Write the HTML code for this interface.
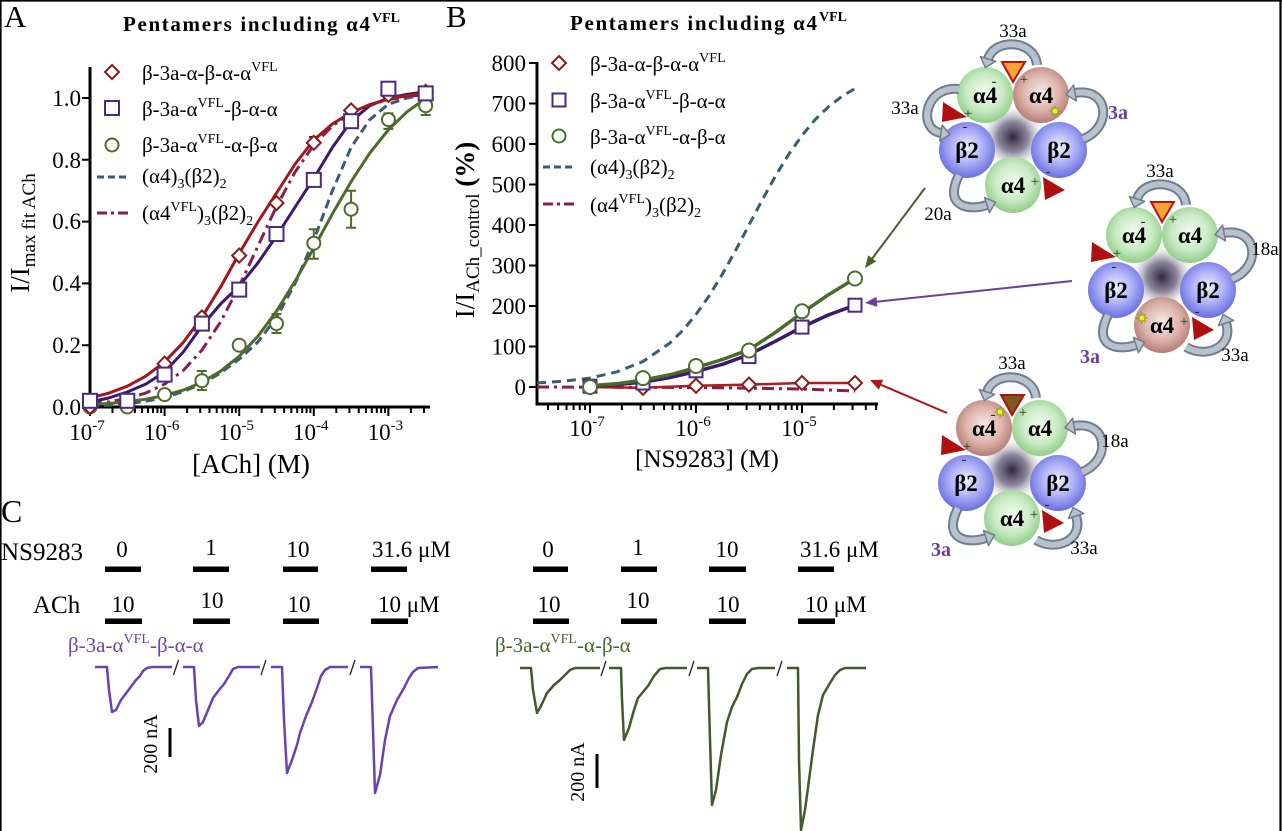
<!DOCTYPE html>
<html>
<head>
<meta charset="utf-8">
<style>
html,body{margin:0;padding:0;background:#fff;}
svg{display:block;font-family:"Liberation Serif","DejaVu Serif",serif;}
text,tspan{font-family:"Liberation Serif","DejaVu Serif",serif;}
.ao{fill:none;stroke:#6f7d8c;stroke-width:10}
.ai{fill:none;stroke:#b8c2ce;stroke-width:6}
.ah{fill:#b8c2ce;stroke:#6f7d8c;stroke-width:1.5;stroke-linejoin:round}
.ax{stroke:#000;stroke-width:3;fill:none}
.tk{stroke:#000;stroke-width:2;fill:none}
.sig{font-size:15px;fill:#1a3a10}
</style>
</head>
<body>
<svg width="1282" height="831" viewBox="0 0 1282 831" xmlns="http://www.w3.org/2000/svg">
<defs>
  <radialGradient id="gG" cx="50%" cy="45%" r="55%">
    <stop offset="0" stop-color="#f4fcf1"/><stop offset="0.6" stop-color="#c8eac2"/><stop offset="1" stop-color="#8fcd88"/>
  </radialGradient>
  <radialGradient id="gP" cx="50%" cy="45%" r="55%">
    <stop offset="0" stop-color="#f7ebe8"/><stop offset="0.6" stop-color="#dcb2aa"/><stop offset="1" stop-color="#b47d75"/>
  </radialGradient>
  <radialGradient id="gB" cx="50%" cy="45%" r="55%">
    <stop offset="0" stop-color="#f0f1ff"/><stop offset="0.55" stop-color="#a9adf5"/><stop offset="1" stop-color="#6a6ee0"/>
  </radialGradient>
  <radialGradient id="gC" cx="50%" cy="50%" r="50%">
    <stop offset="0" stop-color="#2e2640"/><stop offset="0.45" stop-color="#6e6882" stop-opacity="0.8"/><stop offset="1" stop-color="#ffffff" stop-opacity="0"/>
  </radialGradient>
  <g id="arcTop"><path class="ao" d="M24,-70 C22,-95 -18,-98 -25,-76"/><path class="ai" d="M24,-70 C22,-95 -18,-98 -25,-76"/><polygon class="ah" points="-27.7,-67.5 -17.4,-73.6 -32.6,-78.4"/></g>
  <g id="arcLeft"><path class="ao" d="M-54,-46 C-88,-50 -96,-6 -72,-2"/><path class="ai" d="M-54,-46 C-88,-50 -96,-6 -72,-2"/><polygon class="ah" points="-63.1,-0.5 -73.3,5.9 -70.7,-9.9"/></g>
  <g id="arcRight"><path class="ao" d="M70,4 C100,-8 96,-48 62,-42"/><path class="ai" d="M70,4 C100,-8 96,-48 62,-42"/><polygon class="ah" points="53.1,-40.4 60.6,-49.9 63.4,-34.1"/></g>
  <g id="arcBL"><path class="ao" d="M-54,40 C-70,72 -44,76 -26,70"/><path class="ai" d="M-54,40 C-70,72 -44,76 -26,70"/><polygon class="ah" points="-17.5,67.2 -23.5,77.6 -28.5,62.4"/></g>
  <g id="arcBR"><path class="ao" d="M24,72 C44,84 72,72 64,48"/><path class="ai" d="M24,72 C44,84 72,72 64,48"/><polygon class="ah" points="61.2,39.5 71.6,45.5 56.4,50.5"/></g>
  <g id="redTris">
    <polygon points="-70,-33 -46,-18 -71,-13" fill="#b00f10"/>
    <polygon points="30,42 52,55 32,65" fill="#b00f10"/>
  </g>
  <polygon id="star" points="5,0 2.31,0.96 3.54,3.54 0.96,2.31 0,5 -0.96,2.31 -3.54,3.54 -2.31,0.96 -5,0 -2.31,-0.96 -3.54,-3.54 -0.96,-2.31 0,-5 0.96,-2.31 3.54,-3.54 2.31,-0.96" fill="#f2f22a" stroke="#8aa020" stroke-width="0.8"/>
</defs>

<rect x="0" y="0" width="1282" height="831" fill="#fff"/>
<!-- frame -->
<line x1="0.8" y1="0" x2="0.8" y2="831" stroke="#000" stroke-width="1.6"/>
<line x1="0" y1="0.8" x2="1282" y2="0.8" stroke="#000" stroke-width="1.6"/>
<line x1="1280.5" y1="0" x2="1280.5" y2="831" stroke="#000" stroke-width="2.2"/>

<!-- ================= PANEL A ================= -->
<text x="4" y="27" font-size="31">A</text>
<text x="123" y="31" font-size="21" font-weight="bold" textLength="247" lengthAdjust="spacing">Pentamers including α4</text>
<text x="372" y="22" font-size="14" font-weight="bold">VFL</text>

<!-- axes -->
<line class="ax" x1="90" y1="67" x2="90" y2="408.5"/>
<line class="ax" x1="88.5" y1="407" x2="430" y2="407"/>
<path class="tk" d="M82,407H90M82,345.2H90M82,283.4H90M82,221.6H90M82,159.8H90M82,98H90"/>
<path class="tk" d="M90,407V416M164.6,407V416M239.2,407V416M313.8,407V416M388.4,407V416"/>
<path class="tk" stroke-width="1.8" d="M112.5,407V413M125.6,407V413M134.9,407V413M142.1,407V413M148,407V413M153,407V413M157.4,407V413M161.2,407V413M187.1,407V413M200.2,407V413M209.5,407V413M216.7,407V413M222.6,407V413M227.6,407V413M232,407V413M235.8,407V413M261.7,407V413M274.8,407V413M284.1,407V413M291.3,407V413M297.2,407V413M302.2,407V413M306.6,407V413M310.4,407V413M336.3,407V413M349.4,407V413M358.7,407V413M365.9,407V413M371.8,407V413M376.8,407V413M381.2,407V413M385,407V413M410.9,407V413M424,407V413"/>
<g font-size="23" text-anchor="end">
  <text x="81" y="415">0.0</text>
  <text x="81" y="353">0.2</text>
  <text x="81" y="291">0.4</text>
  <text x="81" y="229">0.6</text>
  <text x="81" y="168">0.8</text>
  <text x="81" y="106">1.0</text>
</g>
<g font-size="23" text-anchor="middle">
  <text x="87" y="440">10<tspan font-size="15" dy="-10">-7</tspan></text>
  <text x="161.6" y="440">10<tspan font-size="15" dy="-10">-6</tspan></text>
  <text x="236.2" y="440">10<tspan font-size="15" dy="-10">-5</tspan></text>
  <text x="310.8" y="440">10<tspan font-size="15" dy="-10">-4</tspan></text>
  <text x="385.4" y="440">10<tspan font-size="15" dy="-10">-3</tspan></text>
</g>
<text x="251" y="473" font-size="27" text-anchor="middle">[ACh] (M)</text>
<text transform="translate(29,233) rotate(-90)" font-size="27" text-anchor="middle">I/I<tspan font-size="19" dy="6">max fit ACh</tspan></text>

<!-- legend A -->
<path d="M112,65 L119,72 L112,79 L105,72 Z" fill="#fff" stroke="#8b1a1a" stroke-width="2"/>
<rect x="105" y="101" width="14" height="14" fill="#fff" stroke="#4a2a80" stroke-width="2"/>
<circle cx="112" cy="145" r="6.5" fill="#fff" stroke="#4e6b2c" stroke-width="2"/>
<line x1="97" y1="177" x2="127" y2="177" stroke="#3d5c70" stroke-width="3" stroke-dasharray="7,4"/>
<line x1="97" y1="213" x2="128" y2="213" stroke="#8c1d4b" stroke-width="3" stroke-dasharray="10,4,3,4"/>
<g font-size="21">
  <text x="142" y="80">β-3a-α-β-α-α<tspan font-size="14" dy="-9">VFL</tspan></text>
  <text x="142" y="116">β-3a-α<tspan font-size="14" dy="-9">VFL</tspan><tspan dy="9">-β-α-α</tspan></text>
  <text x="142" y="152">β-3a-α<tspan font-size="14" dy="-9">VFL</tspan><tspan dy="9">-α-β-α</tspan></text>
  <text x="142" y="183">(α4)<tspan font-size="14" dy="5">3</tspan><tspan dy="-5">(β2)</tspan><tspan font-size="14" dy="5">2</tspan></text>
  <text x="142" y="220">(α4<tspan font-size="14" dy="-9">VFL</tspan><tspan dy="9">)</tspan><tspan font-size="14" dy="5">3</tspan><tspan dy="-5">(β2)</tspan><tspan font-size="14" dy="5">2</tspan></text>
</g>

<!-- curves A -->
<polyline fill="none" stroke="#3d5c70" stroke-width="3" stroke-dasharray="9,5" points="90,406.1 108.65,405.2 127.3,403.9 145.95,401.2 164.6,397.7 183.25,391.5 201.9,383.8 220.55,373 239.2,359.1 257.85,342.1 276.5,317.4 295.15,283.4 313.8,240.1 332.45,190.7 351.1,147.4 369.75,119.6 388.4,104.2 407.05,98 425.7,94.9"/>
<polyline fill="none" stroke="#8c1d4b" stroke-width="3" stroke-dasharray="12,5,3,5" points="90,403.9 108.65,401.9 127.3,398.5 145.95,393 164.6,384.1 183.25,370.5 201.9,350.1 220.55,322 239.2,286.2 257.85,246.3 276.5,206.5 295.15,171.9 313.8,145 332.45,125.8 351.1,113.1 369.75,104.8 388.4,99.5 407.05,96.5 425.7,94.6"/>
<polyline fill="none" stroke="#4e6b2c" stroke-width="3" stroke-linejoin="round" points="90,404.7 108.65,403.5 127.3,401.7 145.95,399.2 164.6,395.5 183.25,390.1 201.9,382.3 220.55,371.2 239.2,356.3 257.85,336.3 276.5,311.2 295.15,281.1 313.8,247.9 332.45,213.8 351.1,181.7 369.75,153.1 388.4,129.8 407.05,111.8 425.7,98.3"/>
<polyline fill="none" stroke="#3b1a6b" stroke-width="3" stroke-linejoin="round" points="90,402 108.65,398 127.3,392 145.95,384 164.6,372 183.25,352 201.9,326 220.55,304 239.2,286 257.85,263 276.5,236 295.15,207 313.8,178.3 332.45,147.4 351.1,121.2 369.75,105.7 388.4,98 407.05,94.3 425.7,91.8"/>
<polyline fill="none" stroke="#a3161d" stroke-width="3" stroke-linejoin="round" points="90,397.9 108.65,393.2 127.3,386.2 145.95,376.1 164.6,361.8 183.25,342.4 201.9,317.3 220.55,287.1 239.2,253.5 257.85,222 276.5,193 295.15,164 313.8,140 332.45,123.9 351.1,112.5 369.75,104.6 388.4,99.2 407.05,95.6 425.7,93.2"/>

<!-- error bars A (green) -->
<g stroke="#4e6b2c" stroke-width="2" fill="none">
  <path d="M201.9,390V371M196.9,390H206.9M196.9,371H206.9"/>
  <path d="M276.5,333V314M271.5,333H281.5M271.5,314H281.5"/>
  <path d="M313.8,258.7V229.3M308.8,258.7H318.8M308.8,229.3H318.8"/>
  <path d="M351.1,227.8V190.7M346.1,227.8H356.1M346.1,190.7H356.1"/>
  <path d="M388.4,128.9V113.4M383.4,128.9H393.4M383.4,113.4H393.4"/>
  <path d="M425.7,115V98M420.7,115H430.7M420.7,98H430.7"/>
</g>
<path d="M313.8,142V137M309,137H318.6" stroke="#8b1a1a" stroke-width="2" fill="none"/>

<!-- markers A -->
<g fill="#fff" stroke="#4e6b2c" stroke-width="2">
  <circle cx="90" cy="407" r="6.5"/><circle cx="127.3" cy="407" r="6.5"/><circle cx="164.6" cy="394.6" r="6.5"/>
  <circle cx="201.9" cy="380.7" r="6.5"/><circle cx="239.2" cy="345.2" r="6.5"/><circle cx="276.5" cy="323.6" r="6.5"/>
  <circle cx="313.8" cy="243.2" r="6.5"/><circle cx="351.1" cy="209.2" r="6.5"/><circle cx="388.4" cy="119.6" r="6.5"/>
  <circle cx="425.7" cy="105.7" r="6.5"/>
</g>
<g fill="#fff" stroke="#8b1a1a" stroke-width="2">
  <path d="M90,400L97,407L90,414L83,407Z"/>
  <path d="M164.6,356.7L171.6,363.7L164.6,370.7L157.6,363.7Z"/>
  <path d="M201.9,310.4L208.9,317.4L201.9,324.4L194.9,317.4Z"/>
  <path d="M239.2,248.6L246.2,255.6L239.2,262.6L232.2,255.6Z"/>
  <path d="M276.5,196.1L283.5,203.1L276.5,210.1L269.5,203.1Z"/>
  <path d="M313.8,135.8L320.8,142.8L313.8,149.8L306.8,142.8Z"/>
  <path d="M351.1,103.4L358.1,110.4L351.1,117.4L344.1,110.4Z"/>
  <path d="M388.4,87.9L395.4,94.9L388.4,101.9L381.4,94.9Z"/>
  <path d="M425.7,84.8L432.7,91.8L425.7,98.8L418.7,91.8Z"/>
</g>
<g fill="#fff" stroke="#4a2a80" stroke-width="2">
  <rect x="83" y="393.8" width="14" height="14"/><rect x="120.3" y="393.8" width="14" height="14"/>
  <rect x="157.6" y="367.6" width="14" height="14"/><rect x="194.9" y="316.6" width="14" height="14"/>
  <rect x="232.2" y="282.6" width="14" height="14"/><rect x="269.5" y="227" width="14" height="14"/>
  <rect x="306.8" y="172.9" width="14" height="14"/><rect x="344.1" y="114.2" width="14" height="14"/>
  <rect x="381.4" y="81.7" width="14" height="14"/><rect x="418.7" y="86.4" width="14" height="14"/>
</g>

<!-- ================= PANEL B ================= -->
<text x="446" y="27" font-size="31">B</text>
<text x="570" y="30" font-size="21" font-weight="bold" textLength="247" lengthAdjust="spacing">Pentamers including α4</text>
<text x="819" y="21" font-size="14" font-weight="bold">VFL</text>

<line class="ax" x1="537" y1="62" x2="537" y2="405.5"/>
<line class="ax" x1="535.5" y1="404" x2="878" y2="404"/>
<path class="tk" d="M529,387H537M529,346.5H537M529,306H537M529,265.5H537M529,225H537M529,184.5H537M529,144H537M529,103.5H537M529,63H537"/>
<path class="tk" d="M590,404V413M696,404V413M802,404V413"/>
<path class="tk" stroke-width="1.8" d="M548,404V410M558.1,404V410M566.5,404V410M573.6,404V410M579.7,404V410M585.1,404V410M621.9,404V410M640.6,404V410M653.8,404V410M664.1,404V410M672.5,404V410M679.6,404V410M685.7,404V410M691.1,404V410M727.9,404V410M746.6,404V410M759.8,404V410M770.1,404V410M778.5,404V410M785.6,404V410M791.7,404V410M797.1,404V410M833.9,404V410M852.6,404V410M865.8,404V410M876.1,404V410"/>
<g font-size="23" text-anchor="end">
  <text x="526" y="395">0</text>
  <text x="526" y="354.5">100</text>
  <text x="526" y="314">200</text>
  <text x="526" y="273.5">300</text>
  <text x="526" y="233">400</text>
  <text x="526" y="192.5">500</text>
  <text x="526" y="152">600</text>
  <text x="526" y="111.5">700</text>
  <text x="526" y="71">800</text>
</g>
<g font-size="23" text-anchor="middle">
  <text x="587" y="436">10<tspan font-size="15" dy="-10">-7</tspan></text>
  <text x="693" y="436">10<tspan font-size="15" dy="-10">-6</tspan></text>
  <text x="799" y="436">10<tspan font-size="15" dy="-10">-5</tspan></text>
</g>
<text x="707" y="467" font-size="25" text-anchor="middle">[NS9283] (M)</text>
<text transform="translate(474,230) rotate(-90)" font-size="27" text-anchor="middle">I/I<tspan font-size="19" dy="5">ACh_control</tspan><tspan dy="-5" font-weight="bold"> (%)</tspan></text>

<!-- legend B -->
<path d="M559,56L566,63L559,70L552,63Z" fill="#fff" stroke="#8b1a1a" stroke-width="2"/>
<rect x="552.5" y="93.5" width="13" height="13" fill="#fff" stroke="#4a2a80" stroke-width="2"/>
<circle cx="559" cy="136" r="6.5" fill="#fff" stroke="#4e6b2c" stroke-width="2"/>
<line x1="543" y1="167" x2="575" y2="167" stroke="#3d5c70" stroke-width="3" stroke-dasharray="7,4"/>
<line x1="543" y1="204" x2="575" y2="204" stroke="#8c1d4b" stroke-width="3" stroke-dasharray="10,4,3,4"/>
<g font-size="21">
  <text x="590" y="71">β-3a-α-β-α-α<tspan font-size="14" dy="-9">VFL</tspan></text>
  <text x="590" y="108">β-3a-α<tspan font-size="14" dy="-9">VFL</tspan><tspan dy="9">-β-α-α</tspan></text>
  <text x="590" y="144">β-3a-α<tspan font-size="14" dy="-9">VFL</tspan><tspan dy="9">-α-β-α</tspan></text>
  <text x="590" y="174">(α4)<tspan font-size="14" dy="5">3</tspan><tspan dy="-5">(β2)</tspan><tspan font-size="14" dy="5">2</tspan></text>
  <text x="590" y="212">(α4<tspan font-size="14" dy="-9">VFL</tspan><tspan dy="9">)</tspan><tspan font-size="14" dy="5">3</tspan><tspan dy="-5">(β2)</tspan><tspan font-size="14" dy="5">2</tspan></text>
</g>

<!-- curves B -->
<polyline fill="none" stroke="#3d5c70" stroke-width="3" stroke-dasharray="9,6" points="537,383 563.5,381.2 590,378.1 616.5,372 643,361.5 669.5,343.3 682.75,330.5 696,314.5 709.25,295.7 722.5,274 735.75,250.1 749,225 762.25,199.9 775.5,176 788.75,154.3 802,135.5 815.25,119.5 828.5,106.7 841.75,96.5 855,88.5"/>
<polyline fill="none" stroke="#8c1d4b" stroke-width="3" stroke-dasharray="12,5,3,5" points="537,387 650,387.3 720,387.8 802,389 855,391"/>
<polyline fill="none" stroke="#b01a1f" stroke-width="2.5" points="590,387 643,387.8 696,385.8 749,384.6 802,383 855,383"/>
<polyline fill="none" stroke="#3a1a6a" stroke-width="3.5" stroke-linejoin="round" points="590,386.2 616.5,384.6 643,382.1 669.5,377.7 696,371.6 722.5,364.3 749,354.6 775.5,341.2 802,327.1 828.5,314.9 855,305.2"/>
<polyline fill="none" stroke="#4a6a28" stroke-width="3.5" stroke-linejoin="round" points="590,385.8 616.5,383.8 643,380.1 669.5,374.9 696,367.6 722.5,359.5 749,349.7 775.5,332.3 802,312.9 828.5,294.7 855,278.5"/>

<!-- markers B -->
<g fill="#fff" stroke="#8b1a1a" stroke-width="2">
  <path d="M590,380L597,387L590,394L583,387Z"/>
  <path d="M643,380.8L650,387.8L643,394.8L636,387.8Z"/>
  <path d="M696,378.8L703,385.8L696,392.8L689,385.8Z"/>
  <path d="M749,377.6L756,384.6L749,391.6L742,384.6Z"/>
  <path d="M802,376L809,383L802,390L795,383Z"/>
  <path d="M855,376L862,383L855,390L848,383Z"/>
</g>
<g fill="#fff" stroke="#4a2a80" stroke-width="2">
  <rect x="583.5" y="379.7" width="13" height="13"/><rect x="636.5" y="376.5" width="13" height="13"/>
  <rect x="689.5" y="364.3" width="13" height="13"/><rect x="742.5" y="350.1" width="13" height="13"/>
  <rect x="795.5" y="320.6" width="13" height="13"/><rect x="848.5" y="298.7" width="13" height="13"/>
</g>
<g fill="#fff" stroke="#4e6b2c" stroke-width="2">
  <circle cx="590" cy="387" r="7"/><circle cx="643" cy="378.1" r="7"/><circle cx="696" cy="366" r="7"/>
  <circle cx="749" cy="350.5" r="7"/><circle cx="802" cy="311.3" r="7"/><circle cx="855" cy="278.5" r="7"/>
</g>

<!-- connector arrows -->
<line x1="925" y1="188" x2="870" y2="261.5" stroke="#4b5e2e" stroke-width="2"/>
<polygon points="865,268 876.2,261.4 868.2,255.4" fill="#4b5e2e"/>
<line x1="1072" y1="281" x2="874" y2="302" stroke="#6a3fa0" stroke-width="2"/>
<polygon points="865,303 877.4,306.7 876.4,296.8" fill="#6a3fa0"/>
<line x1="947" y1="413" x2="879" y2="384" stroke="#b01515" stroke-width="2"/>
<polygon points="870,380 883.2,379.7 878.8,389.8" fill="#b01515"/>

<!-- ================= PENTAMERS ================= -->
<!-- top -->
<g transform="translate(1013,135)">
  <circle cx="0" cy="2" r="34" fill="url(#gC)"/>
  <circle cx="-28" cy="-40" r="28" fill="url(#gG)"/>
  <circle cx="28" cy="-40" r="28" fill="url(#gP)"/>
  <circle cx="-46" cy="15" r="28" fill="url(#gB)"/>
  <circle cx="46" cy="15" r="28" fill="url(#gB)"/>
  <circle cx="0" cy="50" r="28" fill="url(#gG)"/>
  <use href="#arcTop"/><use href="#arcLeft"/><use href="#arcRight"/><use href="#arcBL"/>
  <use href="#redTris"/>
  <polygon points="-11,-73 12,-73 0,-53" fill="#f2a534" stroke="#c01010" stroke-width="2"/>
  <use href="#star" x="42" y="-24"/>
  <g font-size="23" font-weight="bold" text-anchor="middle">
    <text x="-28" y="-32">α4</text><text x="28" y="-32">α4</text>
    <text x="-46" y="23">β2</text><text x="46" y="23">β2</text><text x="0" y="58">α4</text>
  </g>
  <g class="sig" text-anchor="middle">
    <text x="-19" y="-49">-</text><text x="11" y="-51">+</text>
    <text x="-45" y="-17">+</text><text x="-48" y="-4">-</text>
    <text x="22" y="51">+</text><text x="35" y="41">-</text>
  </g>
  <g font-size="19" text-anchor="middle">
    <text x="0" y="-98">33a</text>
    <text x="-108" y="-21">33a</text>
    <text x="-75" y="85">20a</text>
  </g>
  <text x="105" y="-16" font-size="20" font-weight="bold" fill="#6a3fa0" text-anchor="middle">3a</text>
</g>

<!-- middle -->
<g transform="translate(1162,275)">
  <circle cx="0" cy="2" r="34" fill="url(#gC)"/>
  <circle cx="-28" cy="-40" r="28" fill="url(#gG)"/>
  <circle cx="28" cy="-40" r="28" fill="url(#gG)"/>
  <circle cx="-46" cy="15" r="28" fill="url(#gB)"/>
  <circle cx="46" cy="15" r="28" fill="url(#gB)"/>
  <circle cx="0" cy="50" r="28" fill="url(#gP)"/>
  <use href="#arcTop"/><use href="#arcRight"/><use href="#arcBL"/><use href="#arcBR"/>
  <use href="#redTris"/>
  <polygon points="-11,-73 12,-73 0,-53" fill="#f2a534" stroke="#c01010" stroke-width="2"/>
  <use href="#star" x="-20" y="43"/>
  <g font-size="23" font-weight="bold" text-anchor="middle">
    <text x="-28" y="-32">α4</text><text x="28" y="-32">α4</text>
    <text x="-46" y="23">β2</text><text x="46" y="23">β2</text><text x="0" y="58">α4</text>
  </g>
  <g class="sig" text-anchor="middle">
    <text x="-19" y="-49">-</text><text x="11" y="-51">+</text>
    <text x="-45" y="-17">+</text><text x="-48" y="-4">-</text>
    <text x="22" y="51">+</text><text x="35" y="41">-</text>
  </g>
  <g font-size="19" text-anchor="middle">
    <text x="-2" y="-98">33a</text>
    <text x="103" y="-20">18a</text>
    <text x="73" y="86">33a</text>
  </g>
  <text x="-72" y="88" font-size="20" font-weight="bold" fill="#6a3fa0" text-anchor="middle">3a</text>
</g>

<!-- bottom -->
<g transform="translate(1012,468)">
  <circle cx="0" cy="2" r="34" fill="url(#gC)"/>
  <circle cx="-28" cy="-40" r="28" fill="url(#gP)"/>
  <circle cx="28" cy="-40" r="28" fill="url(#gG)"/>
  <circle cx="-46" cy="15" r="28" fill="url(#gB)"/>
  <circle cx="46" cy="15" r="28" fill="url(#gB)"/>
  <circle cx="0" cy="50" r="28" fill="url(#gG)"/>
  <use href="#arcTop"/><use href="#arcRight"/><use href="#arcBL"/><use href="#arcBR"/>
  <use href="#redTris"/>
  <polygon points="-11,-73 12,-73 0,-53" fill="#7b5a1e" stroke="#b01010" stroke-width="2"/>
  <use href="#star" x="-12" y="-56"/>
  <g font-size="23" font-weight="bold" text-anchor="middle">
    <text x="-28" y="-32">α4</text><text x="28" y="-32">α4</text>
    <text x="-46" y="23">β2</text><text x="46" y="23">β2</text><text x="0" y="58">α4</text>
  </g>
  <g class="sig" text-anchor="middle">
    <text x="-19" y="-49">-</text><text x="11" y="-51">+</text>
    <text x="-45" y="-17">+</text><text x="-48" y="-4">-</text>
    <text x="22" y="51">+</text><text x="35" y="41">-</text>
  </g>
  <g font-size="19" text-anchor="middle">
    <text x="0" y="-99">33a</text>
    <text x="103" y="-21">18a</text>
    <text x="72" y="86">33a</text>
  </g>
  <text x="-71" y="88" font-size="20" font-weight="bold" fill="#6a3fa0" text-anchor="middle">3a</text>
</g>

<!-- ================= PANEL C ================= -->
<text x="1" y="522" font-size="32">C</text>
<text x="1" y="560" font-size="25" textLength="82" lengthAdjust="spacingAndGlyphs">NS9283</text>
<text x="33" y="613" font-size="25">ACh</text>

<g font-size="23" text-anchor="middle">
  <text x="122" y="557">0</text><text x="211" y="555">1</text><text x="298" y="557">10</text>
  <text x="548" y="557">0</text><text x="638" y="555">1</text><text x="727" y="557">10</text>
  <text x="123" y="612">10</text><text x="212" y="608">10</text><text x="299" y="612">10</text>
  <text x="549" y="612">10</text><text x="638" y="608">10</text><text x="728" y="612">10</text>
</g>
<g font-size="23">
  <text x="372" y="557">31.6 μM</text>
  <text x="800" y="557">31.6 μM</text>
  <text x="378" y="612">10 μM</text>
  <text x="805" y="612">10 μM</text>
</g>
<g fill="#000">
  <rect x="105" y="566.5" width="36" height="5.5"/><rect x="193" y="566.5" width="36" height="5.5"/>
  <rect x="283" y="566.5" width="35" height="5.5"/><rect x="371" y="566.5" width="36" height="5.5"/>
  <rect x="533" y="566.5" width="35" height="5.5"/><rect x="621" y="566.5" width="36" height="5.5"/>
  <rect x="709" y="566.5" width="37" height="5.5"/><rect x="798" y="566.5" width="36" height="5.5"/>
  <rect x="105" y="618.5" width="37" height="5.5"/><rect x="193" y="618.5" width="37" height="5.5"/>
  <rect x="283" y="618.5" width="36" height="5.5"/><rect x="371" y="618.5" width="37" height="5.5"/>
  <rect x="533" y="618.5" width="36" height="5.5"/><rect x="621" y="618.5" width="36" height="5.5"/>
  <rect x="709" y="618.5" width="37" height="5.5"/><rect x="798" y="618.5" width="37" height="5.5"/>
</g>

<text x="68" y="652" font-size="21" fill="#6b45a8">β-3a-α<tspan font-size="14" dy="-9">VFL</tspan><tspan dy="9">-β-α-α</tspan></text>
<text x="495" y="652" font-size="21" fill="#4b6130">β-3a-α<tspan font-size="14" dy="-9">VFL</tspan><tspan dy="9">-α-β-α</tspan></text>

<!-- traces left (purple) -->
<g fill="none" stroke="#6a42b0" stroke-width="2.5" stroke-linejoin="round">
  <path d="M95,667 L107,667 L109,690 L112,712 L116,710 L121,700 L127,692 L133,684 L136,680 L140,676 L143,671 L147,668 L152,667 L172,667"/>
  <path d="M183,667 L194,667 L196,700 L199,726 L203,722 L208,710 L213,698 L219,690 L224,684 L229,676 L233,669 L238,667 L260,667"/>
  <path d="M271,667 L282,667 L284,720 L287,773 L292,760 L297,745 L300,733 L306,716 L312,702 L317,688 L321,676 L325,670 L330,667 L348,667"/>
  <path d="M360,667 L371,667 L373,730 L375,793 L380,775 L385,740 L390,716 L397,700 L404,688 L409,678 L413,672 L418,668 L438,667"/>
</g>
<!-- traces right (green) -->
<g fill="none" stroke="#44582c" stroke-width="2.5" stroke-linejoin="round">
  <path d="M520,668 L531,668 L533,690 L537,713 L541,706 L547,693 L554,685 L560,680 L565,675 L570,670 L575,668 L600,668"/>
  <path d="M609,668 L621,668 L622,700 L624,740 L629,728 L634,710 L638,698 L643,692 L648,686 L654,676 L660,669 L666,668 L687,668"/>
  <path d="M697,668 L708,668 L710,740 L712,805 L716,790 L721,755 L727,722 L732,707 L737,697 L742,684 L747,674 L752,669 L758,668 L775,668"/>
  <path d="M787,668 L798,668 L799,760 L801,830 L805,810 L809,780 L813,750 L818,715 L823,695 L830,683 L835,675 L840,670 L845,668 L866,668"/>
</g>
<g stroke="#222" stroke-width="1.3">
  <line x1="173.5" y1="675" x2="178.5" y2="660"/>
  <line x1="261" y1="675" x2="266" y2="660"/>
  <line x1="350" y1="675" x2="355" y2="660"/>
  <line x1="601" y1="676" x2="606" y2="661"/>
  <line x1="689" y1="676" x2="694" y2="661"/>
  <line x1="777" y1="676" x2="782" y2="661"/>
</g>

<!-- scale bars -->
<line x1="170" y1="728" x2="170" y2="757" stroke="#000" stroke-width="3"/>
<text transform="translate(157,744) rotate(-90)" font-size="20" text-anchor="middle">200 nA</text>
<line x1="597" y1="754" x2="597" y2="788" stroke="#000" stroke-width="3"/>
<text transform="translate(584,772) rotate(-90)" font-size="20" text-anchor="middle">200 nA</text>
</svg>
</body>
</html>
